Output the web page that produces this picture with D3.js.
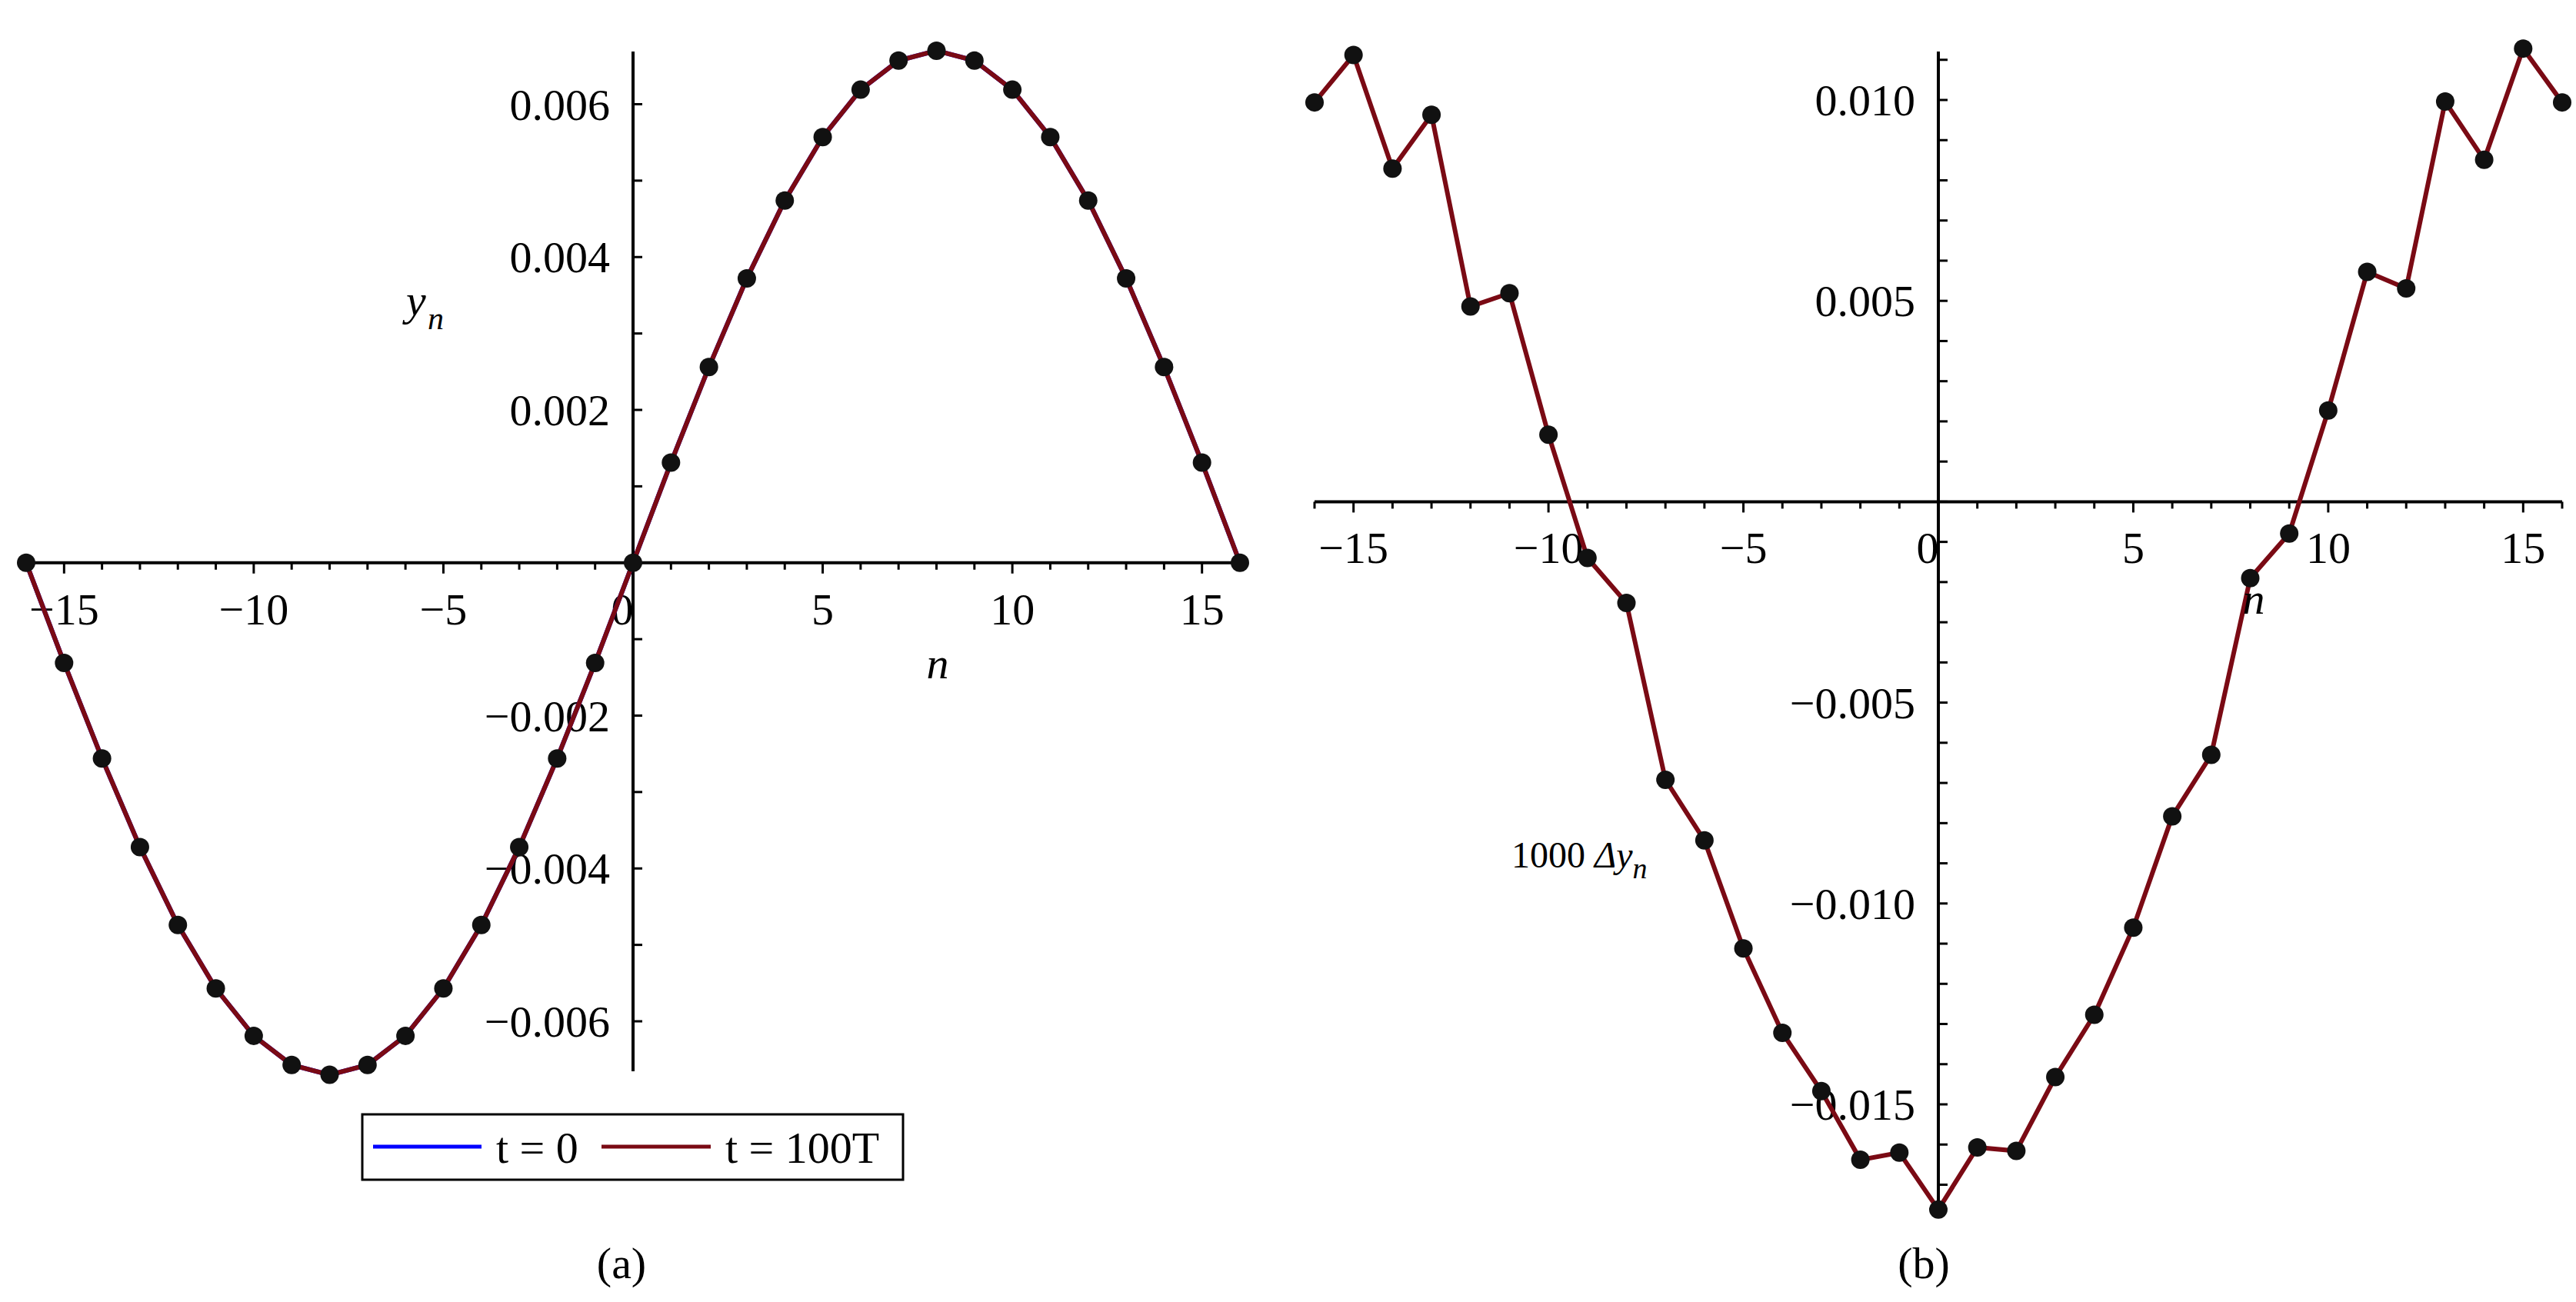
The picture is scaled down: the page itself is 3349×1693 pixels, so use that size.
<!DOCTYPE html>
<html><head><meta charset="utf-8">
<script src="https://cdn.jsdelivr.net/npm/d3@7"></script>
<style>body{margin:0;background:#fff}text{font-family:"Liberation Serif","Times New Roman",serif;fill:#000}</style>
</head><body>
<script>
// sites n = -16..16
var nValues = d3.range(-16, 17);
// panel (a): y_n, t = 0 and t = 100T overlap
var yA0 = [0,-0.00131,-0.00256,-0.00372,-0.00474,-0.00557,-0.00619,-0.00657,-0.0067,-0.00657,-0.00619,-0.00557,-0.00474,-0.00372,-0.00256,-0.00131,
  0,0.00131,0.00256,0.00372,0.00474,0.00557,0.00619,0.00657,0.0067,0.00657,0.00619,0.00557,0.00474,0.00372,0.00256,0.00131,0];
var yA100 = yA0.slice();
// panel (b): 1000 Δy_n
var yB = [0.00994,0.01112,0.00829,0.00963,0.00486,0.00519,0.00167,-0.0014,-0.00252,-0.00692,-0.00843,-0.01112,-0.01322,-0.01467,-0.01638,-0.0162,
  -0.01762,-0.01607,-0.01616,-0.01432,-0.01277,-0.0106,-0.00783,-0.0063,-0.0019,-0.00079,0.00227,0.00572,0.00531,0.00996,0.00851,0.01128,0.00994];
var xTicks = [-15,-10,-5,0,5,10,15];
var yTicksA = [-0.006,-0.004,-0.002,0.002,0.004,0.006];
var yTicksB = [-0.015,-0.01,-0.005,0.005,0.01];

var svg = d3.select("body").append("svg").attr("width",3349).attr("height",1693);
var minus = s => s.replace("-", "\u2212");

function panel(o) {
  var x = d3.scaleLinear().domain([-16,16]).range(o.xr);
  var y = d3.scaleLinear().domain(o.yd).range(o.yr);
  var g = svg.append("g");
  var x0 = x(0), y0 = y(0);
  // axes lines
  g.append("line").attr("x1",o.xr[0]).attr("x2",o.xr[1]).attr("y1",y0).attr("y2",y0).attr("stroke","#000").attr("stroke-width",4);
  g.append("line").attr("x1",x0).attr("x2",x0).attr("y1",o.ytop).attr("y2",o.ybot).attr("stroke","#000").attr("stroke-width",4);
  // x ticks
  g.selectAll(".xm").data(d3.range(-16,17)).enter().append("line")
    .attr("x1",d=>x(d)).attr("x2",d=>x(d)).attr("y1",y0).attr("y2",d=>y0+(d%5==0?14:9)).attr("stroke","#000").attr("stroke-width",3);
  g.selectAll(".xl").data(xTicks).enter().append("text")
    .attr("x",d=>x(d)-(d==0?14:0)).attr("y",y0+80).attr("text-anchor","middle").attr("font-size",58)
    .text(d=>minus(String(d)));
  // y ticks
  g.selectAll(".ym").data(o.minor).enter().append("line")
    .attr("x1",x0).attr("x2",x0+12).attr("y1",d=>y(d)).attr("y2",d=>y(d)).attr("stroke","#000").attr("stroke-width",3);
  g.selectAll(".yl").data(o.yTicks).enter().append("text")
    .attr("x",x0-30).attr("y",d=>y(d)+20).attr("text-anchor","end").attr("font-size",58)
    .text(d=>minus(d3.format(".3f")(d)));
  var line = d3.line().x((d,i)=>x(nValues[i])).y(d=>y(d));
  o.series.forEach(s=>{
    g.append("path").datum(s.v).attr("d",line).attr("fill","none").attr("stroke",s.c).attr("stroke-width",6);
  });
  g.selectAll(".pt").data(o.series[o.series.length-1].v).enter().append("circle")
    .attr("cx",(d,i)=>x(nValues[i])).attr("cy",d=>y(d)).attr("r",12).attr("fill","#111");
  return {x:x,y:y,g:g};
}

var pa = panel({xr:[34,1612], yd:[-0.006,0.006], yr:[1328,135.5], ytop:67, ybot:1393,
  minor:d3.range(-6,7).map(d=>d/1000), yTicks:yTicksA,
  series:[{v:yA0,c:"#0000ff"},{v:yA100,c:"#7a0a14"}]});
var pb = panel({xr:[1709,3331], yd:[-0.015,0.01], yr:[1436,130], ytop:67, ybot:1580,
  minor:d3.range(-17,12).map(d=>d/1000), yTicks:yTicksB,
  series:[{v:yB,c:"#7a0a14"}]});

// axis labels
svg.append("text").attr("x",528).attr("y",410).attr("font-size",58).attr("font-style","italic").text("y");
svg.append("text").attr("x",556).attr("y",428).attr("font-size",42).attr("font-style","italic").text("n");
svg.append("text").attr("x",1219).attr("y",882).attr("font-size",58).attr("font-style","italic").attr("text-anchor","middle").text("n");
svg.append("text").attr("x",2930).attr("y",798).attr("font-size",58).attr("font-style","italic").attr("text-anchor","middle").text("n");
var lb = svg.append("text").attr("x",1965).attr("y",1128).attr("font-size",48);
lb.append("tspan").text("1000 ");
lb.append("tspan").attr("font-style","italic").text("\u0394y");
lb.append("tspan").attr("font-style","italic").attr("font-size",38).attr("dy",14).text("n");

// legend
svg.append("rect").attr("x",471).attr("y",1449).attr("width",703).attr("height",85).attr("fill","#fff").attr("stroke","#000").attr("stroke-width",3);
svg.append("line").attr("x1",485).attr("x2",626).attr("y1",1491).attr("y2",1491).attr("stroke","#0000ff").attr("stroke-width",5);
svg.append("text").attr("x",645).attr("y",1512).attr("font-size",58).text("t = 0");
svg.append("line").attr("x1",782).attr("x2",924).attr("y1",1491).attr("y2",1491).attr("stroke","#7a0a14").attr("stroke-width",5);
svg.append("text").attr("x",943).attr("y",1512).attr("font-size",58).text("t = 100T");

// captions
svg.append("text").attr("x",808).attr("y",1662).attr("font-size",58).attr("text-anchor","middle").text("(a)");
svg.append("text").attr("x",2501).attr("y",1662).attr("font-size",58).attr("text-anchor","middle").text("(b)");
</script>
</body></html>
